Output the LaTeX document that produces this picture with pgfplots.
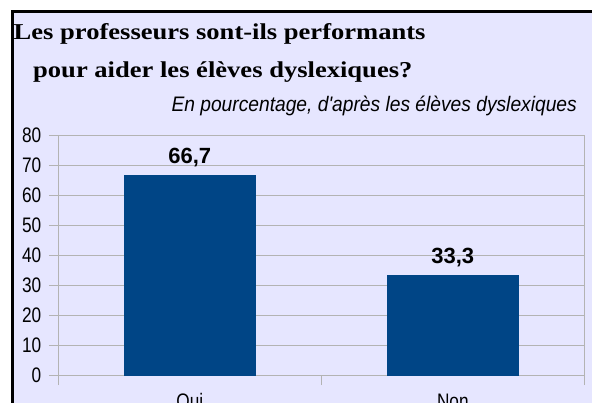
\documentclass[border=0pt]{standalone}
\usepackage{pgfplots}
\pgfplotsset{compat=1.18}
\usepackage{fontspec}
\setmainfont{Liberation Sans}
\newfontfamily\titlefont[FakeStretch=1.17]{Liberation Serif}
\newfontfamily\tickfont[FakeStretch=0.82]{Liberation Sans}
\newfontfamily\subfont[FakeStretch=0.915]{Liberation Sans}
\definecolor{bg}{HTML}{E6E6FF}
\definecolor{barblue}{HTML}{004586}
\definecolor{gridg}{HTML}{B3B3B3}
\begin{document}
\begin{tikzpicture}
\path[use as bounding box] (0,0) rectangle (592bp,403bp);
\clip (0,0) rectangle (592bp,403bp);
\fill[white] (0,0) rectangle (592bp,403bp);
\fill[bg] (12.5bp,-10bp) rectangle (610bp,391.5bp);
\draw[black, line width=3bp] (12.5bp,-10bp) -- (12.5bp,391.5bp) -- (610bp,391.5bp);
\node[anchor=base west, inner sep=0pt] at (13.5bp,363bp)
  {\titlefont\bfseries\fontsize{22.7bp}{27bp}\selectfont Les professeurs sont-ils performants};
\node[anchor=base west, inner sep=0pt] at (33bp,325bp)
  {\titlefont\bfseries\fontsize{22.7bp}{27bp}\selectfont pour aider les élèves dyslexiques?};
\node[anchor=base east, inner sep=0pt] at (577bp,291.3bp)
  {\subfont\itshape\fontsize{21bp}{25bp}\selectfont En pourcentage, d'après les élèves dyslexiques};
\begin{axis}[
  at={(58.3bp,27.5bp)}, anchor=south west,
  scale only axis, width=526bp, height=240bp,
  xmin=0, xmax=2, ymin=0, ymax=80,
  ytick={0,10,...,80},
  xtick={0,1,2}, xticklabels={},
  extra x ticks={0.5,1.5},
  extra x tick labels={Oui,Non},
  extra x tick style={major tick length=0pt, grid=none,
     xticklabel style={anchor=base, yshift=-33bp}},
  tick align=outside, tick pos=left,
  major tick length=9.5bp,
  ymajorgrids,
  grid style={gridg, line width=1.3bp},
  axis line style={gridg, line width=1.3bp},
  tick style={gridg, line width=1.3bp},
  /pgf/number format/assume math mode=true,
  ticklabel style={font=\tickfont\fontsize{21bp}{24bp}\selectfont, text=black},
  yticklabel style={xshift=-4bp},
  ybar, bar width=131bp,
  nodes near coords,
  nodes near coords style={anchor=base, yshift=12.4bp, text=black,
     font=\bfseries\fontsize{22bp}{26bp}\selectfont,
     /pgf/number format/.cd, fixed, fixed zerofill, precision=1, use comma},
]
\addplot[fill=barblue, draw=barblue] coordinates {(0.5,66.7) (1.5,33.3)};
\end{axis}
\end{tikzpicture}
\end{document}
